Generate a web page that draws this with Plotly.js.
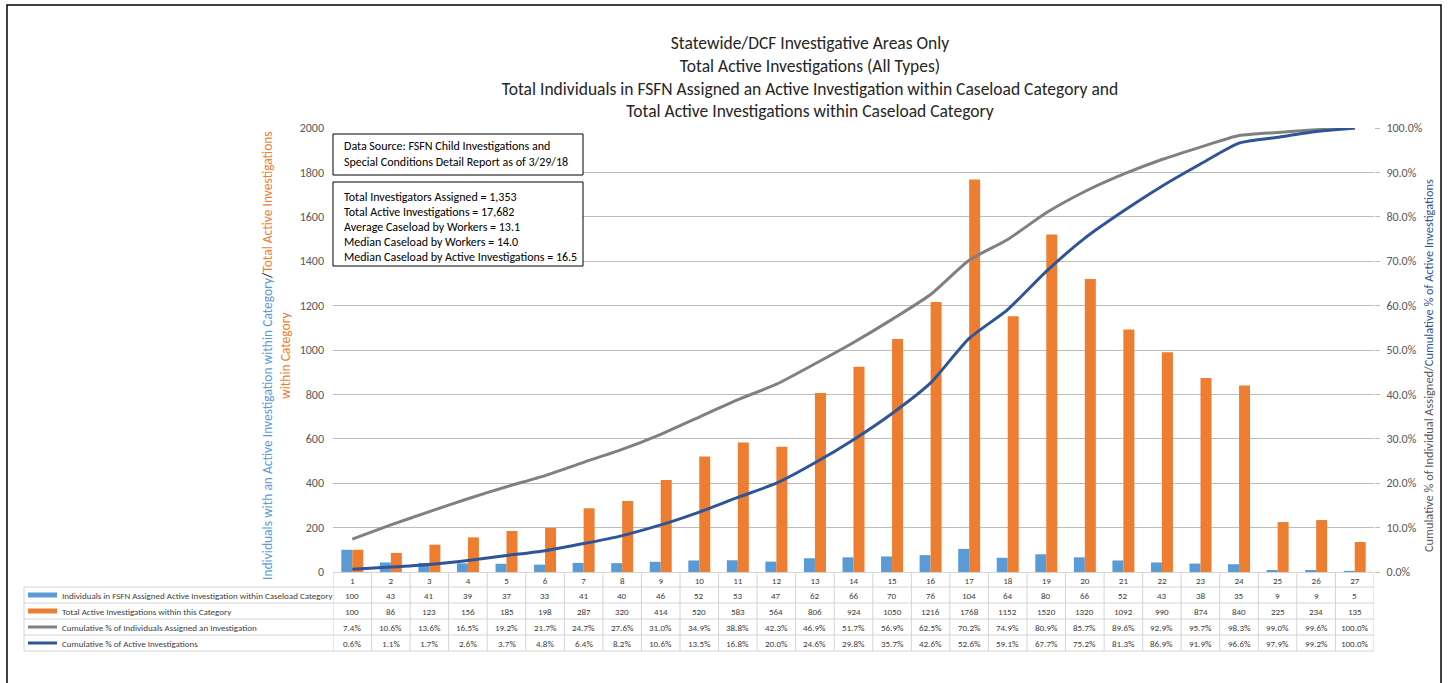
<!DOCTYPE html>
<html>
<head>
<meta charset="utf-8">
<script src="https://cdn.plot.ly/plotly-3.0.1.min.js"></script>
<style>html,body{margin:0;padding:0;background:#fff;}#chart{width:1449px;height:683px;}</style>
</head>
<body>
<div id="chart"></div>
<script>
// ---- data ----
const categories = [1,2,3,4,5,6,7,8,9,10,11,12,13,14,15,16,17,18,19,20,21,22,23,24,25,26,27];
const individuals = [100,43,41,39,37,33,41,40,46,52,53,47,62,66,70,76,104,64,80,66,52,43,38,35,9,9,5];
const totalActive = [100,86,123,156,185,198,287,320,414,520,583,564,806,924,1050,1216,1768,1152,1520,1320,1092,990,874,840,225,234,135];
const cumPctIndividuals = [7.4,10.6,13.6,16.5,19.2,21.7,24.7,27.6,31.0,34.9,38.8,42.3,46.9,51.7,56.9,62.5,70.2,74.9,80.9,85.7,89.6,92.9,95.7,98.3,99.0,99.6,100.0];
const cumPctActive = [0.6,1.1,1.7,2.6,3.7,4.8,6.4,8.2,10.6,13.5,16.8,20.0,24.6,29.8,35.7,42.6,52.6,59.1,67.7,75.2,81.3,86.9,91.9,96.6,97.9,99.2,100.0];
const seriesNames = [
  "Individuals in FSFN Assigned Active Investigation within Caseload Category",
  "Total Active Investigations within this Category",
  "Cumulative % of Individuals Assigned an Investigation",
  "Cumulative % of Active Investigations"
];
const titleLines = [
  "Statewide/DCF Investigative Areas Only",
  "Total Active Investigations (All Types)",
  "Total Individuals in FSFN Assigned an Active Investigation within Caseload Category and",
  "Total Active Investigations within Caseload Category"
];
const sourceText = ["Data Source: FSFN Child Investigations and", "Special Conditions Detail Report as of 3/29/18"];
const statsText = [
  "Total Investigators Assigned = 1,353",
  "Total Active Investigations = 17,682",
  "Average Caseload by Workers = 13.1",
  "Median Caseload by Workers = 14.0",
  "Median Caseload by Active Investigations = 16.5"
];

// ---- styles ----
const FONT = "Carlito, Calibri, Lato, 'Liberation Sans', sans-serif";
const C_BLUE = "#5B9BD5", C_ORANGE = "#ED7D31", C_GRAY = "#808080", C_DBLUE = "#2F5597";
const GRID = "#bcbcbc";
const TL = "#d4d4d4";
const W = 1449, H = 683;
const M = {l: 333, r: 75, t: 128, b: 111};
const PW = W - M.l - M.r, PH = H - M.t - M.b;
const px2x = p => (p - M.l) / PW;
const px2y = p => (H - M.b - p) / PH;

const traces = [
  {type: "bar", x: categories, y: individuals, name: seriesNames[0], marker: {color: C_BLUE}, yaxis: "y"},
  {type: "bar", x: categories, y: totalActive, name: seriesNames[1], marker: {color: C_ORANGE}, yaxis: "y"},
  {type: "scatter", mode: "lines", x: categories, y: cumPctIndividuals, name: seriesNames[2], yaxis: "y2",
   line: {color: C_GRAY, width: 3, shape: "spline", smoothing: 0.6}},
  {type: "scatter", mode: "lines", x: categories, y: cumPctActive, name: seriesNames[3], yaxis: "y2",
   line: {color: C_DBLUE, width: 3, shape: "spline", smoothing: 0.6}}
];

// ---- table (shapes + annotations) ----
const shapes = [];
const annotations = [];
const tableLeft = px2x(24);
const rowTops = [587, 603, 619, 635, 651];
const rowCenters = [595, 611, 627, 643];
rowTops.forEach(r => shapes.push({type: "line", xref: "paper", yref: "paper", x0: tableLeft, x1: 1, y0: px2y(r), y1: px2y(r), line: {color: TL, width: 1}}));
shapes.push({type: "line", xref: "paper", yref: "paper", x0: tableLeft, x1: tableLeft, y0: px2y(587), y1: px2y(651), line: {color: TL, width: 1}});
for (let k = 0; k <= categories.length; k++) {
  shapes.push({type: "line", xref: "x", yref: "paper", x0: k + 0.5, x1: k + 0.5, y0: 0, y1: px2y(651), line: {color: TL, width: 1}});
}
const swatch = [{c: C_BLUE, w: 5}, {c: C_ORANGE, w: 5}, {c: C_GRAY, w: 3}, {c: C_DBLUE, w: 3}];
const rows = [
  individuals.map(v => String(v)),
  totalActive.map(v => String(v)),
  cumPctIndividuals.map(v => v.toFixed(1) + "%"),
  cumPctActive.map(v => v.toFixed(1) + "%")
];
rows.forEach((vals, r) => {
  shapes.push({type: "line", xref: "paper", yref: "paper", x0: px2x(28), x1: px2x(57), y0: px2y(rowCenters[r]), y1: px2y(rowCenters[r]), line: {color: swatch[r].c, width: swatch[r].w}});
  annotations.push({xref: "paper", yref: "paper", x: px2x(60), y: px2y(rowCenters[r]), xanchor: "left", yanchor: "middle",
    text: seriesNames[r], showarrow: false, font: {family: FONT, size: 9, color: "#404040"}});
  vals.forEach((t, i) => annotations.push({xref: "x", yref: "paper", x: categories[i], y: px2y(rowCenters[r]), xanchor: "center", yanchor: "middle",
    text: t, showarrow: false, font: {family: FONT, size: 9, color: "#404040"}}));
});

// text boxes
shapes.push({type: "rect", xref: "paper", yref: "paper", x0: px2x(333), x1: px2x(583), y0: px2y(175), y1: px2y(134),
  fillcolor: "#fff", line: {color: "#000", width: 1}, layer: "above"});
shapes.push({type: "rect", xref: "paper", yref: "paper", x0: px2x(333), x1: px2x(583), y0: px2y(266), y1: px2y(182),
  fillcolor: "#fff", line: {color: "#000", width: 1}, layer: "above"});
const srcY = [146, 162];
sourceText.forEach((t, i) => annotations.push({xref: "paper", yref: "paper", x: px2x(342), y: px2y(srcY[i]), xanchor: "left", yanchor: "middle",
  text: t, showarrow: false, font: {family: FONT, size: 12, color: "#000"}}));
const statY = [197, 212, 227, 242, 257];
statsText.forEach((t, i) => annotations.push({xref: "paper", yref: "paper", x: px2x(342), y: px2y(statY[i]), xanchor: "left", yanchor: "middle",
  text: t, showarrow: false, font: {family: FONT, size: 12, color: "#000"}}));

// axis titles
annotations.push({xref: "paper", yref: "paper", x: px2x(276), y: px2y(356), xanchor: "center", yanchor: "middle", textangle: -90,
  showarrow: false, align: "center",
  text: "<span style='color:" + C_BLUE + "'>Individuals with an Active Investigation within Category</span><span style='color:#000'>/</span><span style='color:" + C_ORANGE + "'>Total Active Investigations</span><br><span style='color:" + C_ORANGE + "'>within Category</span>",
  font: {family: FONT, size: 13.5}});
annotations.push({xref: "paper", yref: "paper", x: px2x(1428), y: px2y(366), xanchor: "center", yanchor: "middle", textangle: -90,
  showarrow: false,
  text: "<span style='color:#595959'>Cumulative % of Individual Assigned/</span><span style='color:" + C_DBLUE + "'>Cumulative % of Active Investigations</span>",
  font: {family: FONT, size: 12.4}});

// outer border
shapes.push({type: "rect", xref: "paper", yref: "paper", x0: px2x(7), x1: px2x(1441), y0: px2y(720), y1: px2y(5), line: {color: "#000", width: 1.5}, layer: "below"});

const layout = {
  width: W, height: H,
  margin: M,
  paper_bgcolor: "#fff", plot_bgcolor: "#fff",
  font: {family: FONT, color: "#595959"},
  showlegend: false,
  title: {text: titleLines.join("<br>"), x: 810 / W, xref: "container", xanchor: "center", y: 1 - 49 / H, yref: "container", yanchor: "top",
    font: {family: FONT, size: 17.5, color: "#262626"}},
  barmode: "group", bargap: 0.43, bargroupgap: 0,
  xaxis: {range: [0.5, categories.length + 0.5], tickmode: "array", tickvals: categories, ticktext: categories.map(String),
    showgrid: false, zeroline: false, showline: true, linecolor: TL, ticks: "", tickfont: {family: FONT, size: 9, color: "#404040"}, fixedrange: true},
  yaxis: {range: [0, 2000], dtick: 200, showgrid: true, gridcolor: GRID, gridwidth: 1, zeroline: false, showline: false, ticks: "",
    ticklabelstandoff: 8, tickfont: {family: FONT, size: 12, color: "#595959"}},
  yaxis2: {range: [0, 100], dtick: 10, overlaying: "y", side: "right", showgrid: false, zeroline: false, showline: false,
    ticks: "outside", ticklen: 5, tickcolor: GRID, tickformat: ".1f", ticksuffix: "%", tickfont: {family: FONT, size: 12, color: "#595959"},
    ticklabelstandoff: 4},
  shapes: shapes,
  annotations: annotations
};

Plotly.newPlot("chart", traces, layout, {displayModeBar: false, staticPlot: true});
</script>
</body>
</html>
